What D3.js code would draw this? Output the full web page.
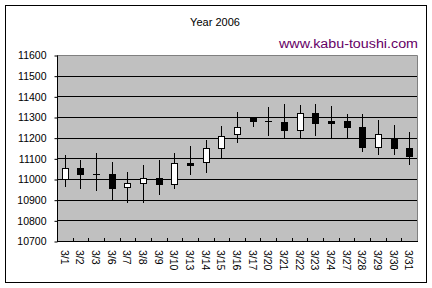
<!DOCTYPE html>
<html>
<head>
<meta charset="utf-8">
<script src="https://cdn.jsdelivr.net/npm/d3@7"></script>
<style>
  body { margin: 0; background: #fff; }
  svg text { font-family: "Liberation Sans", Arial, sans-serif; }
</style>
</head>
<body>
<svg class="viz" width="432" height="288"></svg>
<script>
// data
var dates = ["3/1","3/2","3/3","3/6","3/7","3/8","3/9","3/10","3/13","3/14","3/15","3/16",
             "3/17","3/20","3/21","3/22","3/23","3/24","3/27","3/28","3/29","3/30","3/31"];
var openVals  = [10998,11053,11022,11024,10960,10979,11003,10974,11078,11081,11151,11216,
                 11297,11279,11276,11236,11319,11281,11281,11252,11156,11198,11151];
var closeVals = [11053,11026,11022,10958,10981,11003,10974,11077,11070,11150,11206,11250,
                 11282,11279,11238,11319,11272,11273,11252,11156,11218,11151,11111];
var highVals  = [11116,11092,11126,11082,11034,11068,11092,11126,11160,11189,11256,11324,
                 11297,11348,11363,11358,11363,11353,11314,11314,11285,11261,11227];
var lowVals   = [10963,10953,10943,10898,10885,10885,10924,10950,11021,11030,11102,11176,
                 11253,11208,11192,11197,11209,11197,11197,11131,11116,11116,11068];
var yTicks = [10700,10800,10900,11000,11100,11200,11300,11400,11500,11600];

var svg = d3.select(".viz");
var plot = {left: 57, right: 417, top: 55, bottom: 241};

var dataset = dates.map(function(d, i) {
  return {date: d, open: openVals[i], close: closeVals[i], high: highVals[i], low: lowVals[i]};
});

var scaleX = d3.scaleBand()
  .domain(dates)
  .range([plot.left, plot.right])
  .padding(0);

var scaleY = d3.scaleLinear()
  .domain([10700, 11600])
  .range([plot.bottom, plot.top]);

// outer frame
svg.append("rect")
  .attr("x", 5.5).attr("y", 5.5)
  .attr("width", 421).attr("height", 277)
  .attr("fill", "#fff")
  .attr("stroke", "#000");

// title and site text
svg.append("text")
  .text("Year 2006")
  .attr("x", 215).attr("y", 26)
  .attr("text-anchor", "middle")
  .attr("font-size", "11px")
  .attr("fill", "#000");

svg.append("text")
  .text("www.kabu-toushi.com")
  .attr("x", 279).attr("y", 48)
  .attr("font-size", "12.5px")
  .attr("textLength", 139)
  .attr("lengthAdjust", "spacingAndGlyphs")
  .attr("fill", "#660066");

// plot area
svg.append("rect")
  .attr("x", plot.left).attr("y", plot.top)
  .attr("width", plot.right - plot.left)
  .attr("height", plot.bottom - plot.top)
  .attr("fill", "#c0c0c0");

// gridlines
svg.append("g")
  .selectAll("line")
  .data(yTicks.slice(1, -1))
  .enter()
  .append("line")
    .attr("x1", plot.left).attr("x2", plot.right)
    .attr("y1", function(d) { return Math.round(scaleY(d)) + 0.5; })
    .attr("y2", function(d) { return Math.round(scaleY(d)) + 0.5; })
    .style("stroke", "#000")
    .style("stroke-width", "1px");

// top and right border of the plot
svg.append("path")
  .attr("d", "M" + plot.left + "," + (plot.top + 0.5) + "H" + (plot.right + 0.5) + "V" + plot.bottom)
  .attr("fill", "none")
  .attr("stroke", "#808080");

// candles
var candles = svg.append("g").selectAll("g")
  .data(dataset)
  .enter()
  .append("g");

function cx(d) { return Math.round(scaleX(d.date) + scaleX.bandwidth() / 2) + 0.5; }

candles.append("line")
  .attr("x1", cx).attr("x2", cx)
  .attr("y1", function(d) { return Math.round(scaleY(d.high)); })
  .attr("y2", function(d) { return Math.round(scaleY(d.low)); })
  .style("stroke", "#000")
  .style("stroke-width", "1px");

candles.each(function(d) {
  var g = d3.select(this);
  var yTop = Math.round(scaleY(Math.max(d.open, d.close)));
  var yBot = Math.round(scaleY(Math.min(d.open, d.close)));
  var x = cx(d);
  if (yBot - yTop < 1) {
    g.append("line")
      .attr("x1", x - 3.5).attr("x2", x + 3.5)
      .attr("y1", yTop + 0.5).attr("y2", yTop + 0.5)
      .style("stroke", "#000");
  } else {
    g.append("rect")
      .attr("x", x - 3).attr("y", yTop + 0.5)
      .attr("width", 6).attr("height", yBot - yTop)
      .attr("fill", d.close >= d.open ? "#fff" : "#000")
      .attr("stroke", "#000")
      .attr("stroke-width", 1);
  }
});

// y axis
var yAxis = d3.axisLeft(scaleY)
  .tickValues(yTicks)
  .tickSize(3)
  .tickPadding(8)
  .tickFormat(d3.format("d"));

var gy = svg.append("g")
  .attr("transform", "translate(" + (plot.left + 0.5) + ",0.5)")
  .call(yAxis);
gy.select(".domain").attr("stroke", "#000").attr("d", "M0," + plot.top + "V" + plot.bottom);
gy.selectAll("text").attr("font-size", "10.5px").attr("fill", "#000").attr("font-family", "Liberation Sans, Arial, sans-serif");
gy.selectAll("line").attr("stroke", "#000");

// x axis with inward ticks at category boundaries
svg.append("line")
  .attr("x1", plot.left).attr("x2", plot.right + 1)
  .attr("y1", plot.bottom + 0.5).attr("y2", plot.bottom + 0.5)
  .style("stroke", "#000");

svg.append("g")
  .selectAll("line")
  .data(dates.slice(1))
  .enter()
  .append("line")
    .attr("x1", function(d) { return Math.round(scaleX(d)) + 0.5; })
    .attr("x2", function(d) { return Math.round(scaleX(d)) + 0.5; })
    .attr("y1", plot.bottom - 3)
    .attr("y2", plot.bottom)
    .style("stroke", "#000");

svg.append("g")
  .selectAll("text")
  .data(dates)
  .enter()
  .append("text")
    .text(function(d) { return d; })
    .attr("transform", function(d) {
      return "translate(" + (scaleX(d) + scaleX.bandwidth() / 2 - 4) + ",250) rotate(90)";
    })
    .attr("font-size", "10.5px")
    .attr("fill", "#000");
</script>
</body>
</html>
